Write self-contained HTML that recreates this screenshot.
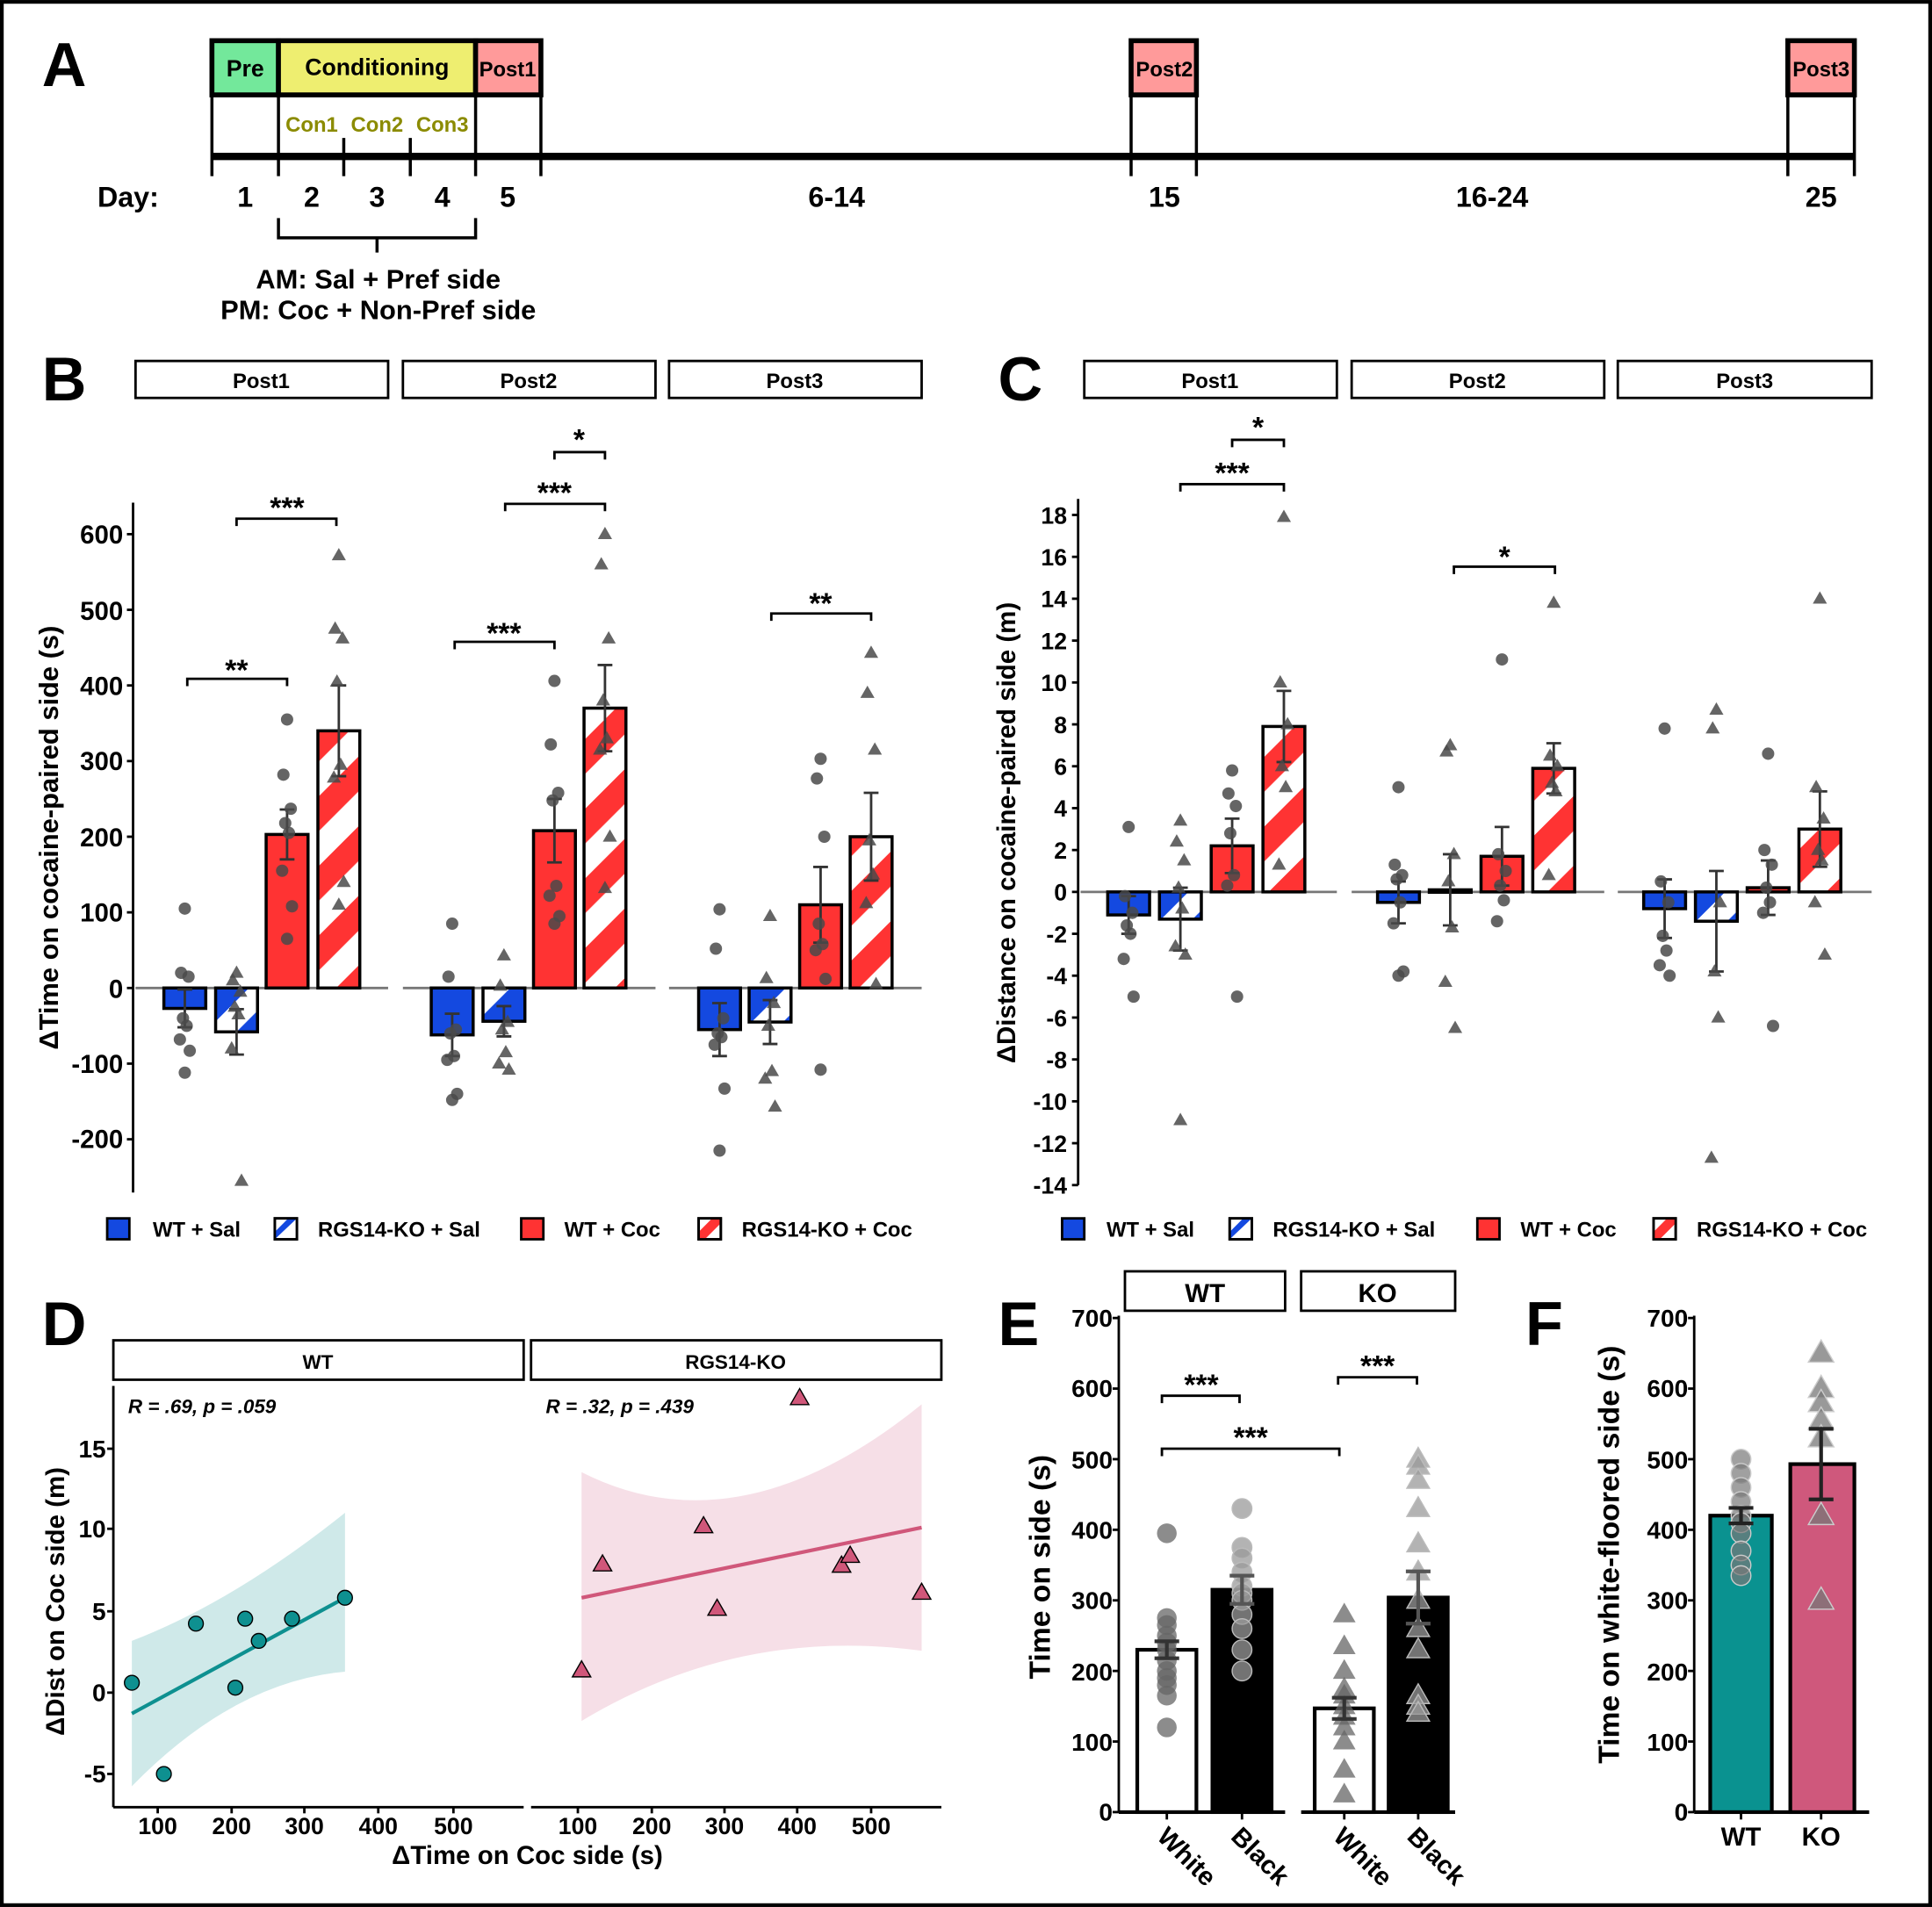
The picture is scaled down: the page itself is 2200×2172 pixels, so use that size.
<!DOCTYPE html>
<html><head><meta charset="utf-8">
<style>
html,body{margin:0;padding:0;background:#fff;}
svg{display:block;}
text{font-family:"Liberation Sans",Arial,sans-serif;font-weight:bold;fill:#000;}
</style></head>
<body>
<svg id="s" xmlns="http://www.w3.org/2000/svg" width="2200" height="2172" viewBox="0 0 1568 1548">
<defs>
<pattern id="pr" patternUnits="userSpaceOnUse" width="40" height="40" patternTransform="rotate(45)">
<rect width="40" height="40" fill="#fff"/><rect width="20" height="40" fill="#ff3333"/></pattern>
<pattern id="pb" patternUnits="userSpaceOnUse" width="44" height="44" patternTransform="rotate(45) translate(6,0)">
<rect width="44" height="44" fill="#1449e0"/><rect width="18" height="44" fill="#fff"/></pattern>
</defs>
<rect x="1.5" y="1.5" width="1565" height="1545" fill="#fff" stroke="#000" stroke-width="3"/>

<!-- Panel A -->
<text x="34" y="70" font-size="50">A</text>
<g stroke="#000" stroke-width="4">
<rect x="172" y="33" width="54" height="44" fill="#73e89b"/>
<rect x="226" y="33" width="160" height="44" fill="#eeee70"/>
<rect x="386" y="33" width="53" height="44" fill="#ff9a9a"/>
<rect x="918" y="33" width="53" height="44" fill="#ff9a9a"/>
<rect x="1451" y="33" width="54" height="44" fill="#ff9a9a"/>
</g>
<g stroke="#000" stroke-width="2.5" fill="none">
<path d="M172 77V143M226 77V143M386 77V143M439 77V143M279 112V143M333 112V143M918 77V143M971 77V143M1451 77V143M1505 77V143"/>
<path d="M226 177V193H386V177M306 193V205"/>
</g>
<line x1="172" y1="127" x2="1505" y2="127" stroke="#000" stroke-width="6"/>
<g font-size="19" text-anchor="middle">
<text x="199" y="62">Pre</text>
<text x="306" y="61">Conditioning</text>
<text x="412" y="62" font-size="17">Post1</text>
<text x="945" y="62" font-size="17">Post2</text>
<text x="1478" y="62" font-size="17">Post3</text>
</g>
<g font-size="17" text-anchor="middle">
<text x="253" y="107" style="fill:#8b8b00">Con1</text><text x="306" y="107" style="fill:#8b8b00">Con2</text><text x="359" y="107" style="fill:#8b8b00">Con3</text>
</g>
<g font-size="23" text-anchor="middle">
<text x="104" y="168">Day:</text>
<text x="199" y="168">1</text><text x="253" y="168">2</text><text x="306" y="168">3</text><text x="359" y="168">4</text><text x="412" y="168">5</text>
<text x="679" y="168">6-14</text><text x="945" y="168">15</text><text x="1211" y="168">16-24</text><text x="1478" y="168">25</text>
<text x="307" y="234" font-size="22">AM: Sal + Pref side</text>
<text x="307" y="259" font-size="22">PM: Coc + Non-Pref side</text>
</g>

<!-- Panel B -->
<text x="34" y="325" font-size="50">B</text>
<g fill="#fff" stroke="#000" stroke-width="2">
<rect x="110" y="293" width="205" height="30"/><rect x="327" y="293" width="205" height="30"/><rect x="543" y="293" width="205" height="30"/>
<rect x="880" y="293" width="205" height="30"/><rect x="1097" y="293" width="205" height="30"/><rect x="1313" y="293" width="206" height="30"/>
<rect x="92" y="1088" width="333" height="32"/><rect x="431" y="1088" width="333" height="32"/>
<rect x="913" y="1032" width="130" height="32"/><rect x="1056" y="1032" width="125" height="32"/>
</g>
<g font-size="17" text-anchor="middle">
<text x="212" y="315">Post1</text><text x="429" y="315">Post2</text><text x="645" y="315">Post3</text>
<text x="982" y="315">Post1</text><text x="1199" y="315">Post2</text><text x="1416" y="315">Post3</text>
<text x="258" y="1111" font-size="16">WT</text><text x="597" y="1111" font-size="16">RGS14-KO</text>
<text x="978" y="1057" font-size="21">WT</text><text x="1118" y="1057" font-size="21">KO</text>
</g>
<g font-size="21" text-anchor="end">
<text x="100" y="441">600</text><text x="100" y="503">500</text><text x="100" y="564">400</text><text x="100" y="625">300</text>
<text x="100" y="687">200</text><text x="100" y="748">100</text><text x="100" y="810">0</text><text x="100" y="871">-100</text><text x="100" y="932">-200</text>
</g>
<text transform="translate(47,680) rotate(-90)" font-size="22" text-anchor="middle">ΔTime on cocaine-paired side (s)</text>
<g font-size="24" text-anchor="middle">
<text x="192" y="552">**</text><text x="233" y="420">***</text>
<text x="409" y="522">***</text><text x="450" y="408">***</text><text x="470" y="365">*</text>
<text x="666" y="498">**</text>
<text x="1021" y="355">*</text><text x="1000" y="392">***</text><text x="1221" y="460">*</text>
<text x="975" y="1132">***</text><text x="1118" y="1117">***</text><text x="1015" y="1175">***</text>
</g>
<g stroke="#000" stroke-width="2" fill="none">
<path d="M152 557V551H233V557M192 427V421H273V427M369 527V521H450V527M410 415V409H491V415M450 373V367H491V373M626 504V498H707V504"/>
<path d="M1000 363V357H1042V363M958 399V393H1042V399M1180 466V460H1262V466"/>
<path d="M943 1139V1133H1006V1139M1086 1124V1118H1150V1124M943 1182V1176H1087V1182"/>
</g>
<g font-size="17">
<text x="124" y="1004">WT + Sal</text><text x="258" y="1004">RGS14-KO + Sal</text><text x="458" y="1004">WT + Coc</text><text x="602" y="1004">RGS14-KO + Coc</text>
<text x="898" y="1004">WT + Sal</text><text x="1033" y="1004">RGS14-KO + Sal</text><text x="1234" y="1004">WT + Coc</text><text x="1377" y="1004">RGS14-KO + Coc</text>
</g>
<g stroke="#000" stroke-width="2">
<rect x="87" y="989" width="18" height="17" fill="#1449e0"/><rect x="423" y="989" width="18" height="17" fill="#ff3333"/>
<rect x="862" y="989" width="18" height="17" fill="#1449e0"/><rect x="1199" y="989" width="18" height="17" fill="#ff3333"/>
</g>
<g stroke="#000" stroke-width="2">
<rect x="223" y="989" width="18" height="17" fill="#fff"/><polygon points="223,1006 223,1000 234,989 241,989" fill="#1449e0" stroke="none"/><rect x="223" y="989" width="18" height="17" fill="none"/>
<rect x="567" y="989" width="18" height="17" fill="#fff"/><polygon points="567,1006 567,1000 578,989 585,989 585,993 572,1006" fill="#ff3333" stroke="none"/><rect x="567" y="989" width="18" height="17" fill="none"/>
<rect x="998" y="989" width="18" height="17" fill="#fff"/><polygon points="998,1006 998,1000 1009,989 1016,989" fill="#1449e0" stroke="none"/><rect x="998" y="989" width="18" height="17" fill="none"/>
<rect x="1342" y="989" width="18" height="17" fill="#fff"/><polygon points="1342,1006 1342,1000 1353,989 1360,989 1360,993 1347,1006" fill="#ff3333" stroke="none"/><rect x="1342" y="989" width="18" height="17" fill="none"/>
</g>

<!-- Panel C text -->
<text x="810" y="325" font-size="50">C</text>
<g font-size="19" text-anchor="end">
<text x="866" y="425">18</text><text x="866" y="459">16</text><text x="866" y="493">14</text><text x="866" y="527">12</text><text x="866" y="561">10</text>
<text x="866" y="595">8</text><text x="866" y="629">6</text><text x="866" y="663">4</text><text x="866" y="697">2</text><text x="866" y="731">0</text>
<text x="866" y="765">-2</text><text x="866" y="799">-4</text><text x="866" y="833">-6</text><text x="866" y="867">-8</text><text x="866" y="901">-10</text>
<text x="866" y="935">-12</text><text x="866" y="969">-14</text>
</g>
<text transform="translate(824,676) rotate(-90)" font-size="21" text-anchor="middle">ΔDistance on cocaine-paired side (m)</text>

<!-- Panel D text -->
<text x="34" y="1092" font-size="50">D</text>
<g font-size="16" font-style="italic">
<text x="104" y="1147" font-style="italic">R = .69,  p = .059</text>
<text x="443" y="1147" font-style="italic">R = .32,  p = .439</text>
</g>
<g font-size="20" text-anchor="end">
<text x="86" y="1183">15</text><text x="86" y="1248">10</text><text x="86" y="1315">5</text><text x="86" y="1381">0</text><text x="86" y="1447">-5</text>
</g>
<g font-size="19" text-anchor="middle">
<text x="128" y="1489">100</text><text x="188" y="1489">200</text><text x="247" y="1489">300</text><text x="307" y="1489">400</text><text x="368" y="1489">500</text>
<text x="469" y="1489">100</text><text x="529" y="1489">200</text><text x="588" y="1489">300</text><text x="647" y="1489">400</text><text x="707" y="1489">500</text>
<text x="428" y="1513" font-size="21">ΔTime on Coc side (s)</text>
</g>
<text transform="translate(52,1300) rotate(-90)" font-size="21" text-anchor="middle">ΔDist on Coc side (m)</text>

<!-- Panel E/F text -->
<text x="810" y="1092" font-size="50">E</text>
<text x="1238" y="1092" font-size="50">F</text>
<g font-size="20" text-anchor="end">
<text x="903" y="1077">700</text><text x="903" y="1134">600</text><text x="903" y="1192">500</text><text x="903" y="1249">400</text>
<text x="903" y="1306">300</text><text x="903" y="1364">200</text><text x="903" y="1421">100</text><text x="903" y="1478">0</text>
<text x="1370" y="1077">700</text><text x="1370" y="1134">600</text><text x="1370" y="1192">500</text><text x="1370" y="1249">400</text>
<text x="1370" y="1306">300</text><text x="1370" y="1364">200</text><text x="1370" y="1421">100</text><text x="1370" y="1478">0</text>
</g>
<text transform="translate(852,1272) rotate(-90)" font-size="24" text-anchor="middle">Time on side (s)</text>
<text transform="translate(1314,1262) rotate(-90)" font-size="24" text-anchor="middle">Time on white-floored side (s)</text>
<g font-size="21">
<text transform="translate(938,1492) rotate(45)">White</text>
<text transform="translate(998,1492) rotate(45)">Black</text>
<text transform="translate(1081,1492) rotate(45)">White</text>
<text transform="translate(1141,1492) rotate(45)">Black</text>
</g>
<g font-size="21" text-anchor="middle"><text x="1413" y="1498">WT</text><text x="1478" y="1498">KO</text></g>
<g id="g"></g>
</svg>
<script>
(function(){
var NS="http://www.w3.org/2000/svg",G=document.getElementById("g");
function el(t,a,p){var e=document.createElementNS(NS,t);for(var k in a)e.setAttribute(k,a[k]);(p||G).appendChild(e);return e;}
function ln(x1,y1,x2,y2,c,w){el("line",{x1:x1,y1:y1,x2:x2,y2:y2,stroke:c||"#000","stroke-width":w||2});}
function pt(x,y,tri,fill,r,op,stroke){r=r||5;fill=fill||"#444";
 if(tri){el("polygon",{points:(x)+","+(y-r*1.2)+" "+(x-r*1.15)+","+(y+r*0.8)+" "+(x+r*1.15)+","+(y+r*0.8),fill:fill,"fill-opacity":op||0.85,stroke:stroke||"none","stroke-width":1});}
 else el("circle",{cx:x,cy:y,r:r,fill:fill,"fill-opacity":op||0.85,stroke:stroke||"none","stroke-width":1});}
function jit(i){return [0,-3,3,-1.5,1.5,-4,4,0,2,-2,1,-1][i%12];}
ln(108,408,108,968,"#000",2);
[600,500,400,300,200,100,0,-100,-200].forEach(function(v){var y=802-v*0.614;ln(103,y,108,y);});
ln(110,802,315,802,"#777",2);ln(327,802,532,802,"#777",2);ln(543,802,748,802,"#777",2);
var fills=["#1449e0","url(#pb)","#ff3333","url(#pr)"];
function panel(cx,vals,sems,pts,yf,zero){
 for(var i=0;i<4;i++){var x=cx[i],v=vals[i],y=yf(v),z=zero;
  el("rect",{x:x-17,y:Math.min(y,z),width:34,height:Math.max(Math.abs(y-z),2),fill:fills[i],stroke:"#000","stroke-width":2.5});}
 for(var i=0;i<4;i++){var x=cx[i];var a=yf(vals[i]+sems[i]),b=yf(vals[i]-sems[i]);
  ln(x,a,x,b,"#333",2);ln(x-6,a,x+6,a,"#333",2);ln(x-6,b,x+6,b,"#333",2);
  pts[i].forEach(function(v,j){pt(x+jit(j),yf(v),i%2==1,"#4a4a4a",5,0.85);});}
}
var yB=function(v){return 802-v*0.614;};
panel([150,192,233,275],[-27,-58,203,340],[25,30,33,60],[[105,20,15,-40,-50,-68,-83,-112],[20,10,-5,-25,-35,-80,-255],[355,282,237,218,205,155,108,65],[572,475,462,405,295,278,140,110]],yB,802);
panel([367,409,450,491],[-62,-44,208,370],[28,20,42,57],[[85,15,-55,-60,-90,-95,-140,-148],[43,3,-45,-55,-85,-100,-108],[406,322,258,248,135,122,95,85],[600,560,462,380,330,315,200,132]],yB,802);
panel([584,625,666,707],[-55,-45,110,200],[35,29,50,58],[[104,52,-40,-60,-65,-75,-133,-215],[95,13,-20,-50,-110,-120,-157],[303,277,200,85,58,50,12,-108],[443,390,315,195,150,112,5]],yB,802);
ln(875,405,875,962,"#000",2);
for(var v=18;v>=-14;v-=2){var y=724-v*17;ln(870,y,875,y);}
ln(877,724,1085,724,"#777",2);ln(1097,724,1302,724,"#777",2);ln(1313,724,1519,724,"#777",2);
var yC=function(v){return 724-v*17;};
panel([916,958,1000,1042],[-1.1,-1.3,2.2,7.9],[0.9,1.5,1.3,1.7],[[3.1,-0.2,-1,-1.6,-2,-3.2,-5],[3.4,2.4,1.5,0.2,-0.8,-2.6,-3,-10.9],[5.8,4.7,4.1,2.8,0.8,0.3,-5],[17.9,10,8,6,5,1.3]],yC,724);
panel([1135,1177,1219,1261],[-0.5,0.1,1.7,5.9],[1,1.7,1.4,1.2],[[5,1.3,0.8,0.6,-0.5,-1.5,-3.8,-4],[7,6.7,1.8,0.5,-1.7,-4.3,-6.5],[11.1,1.8,1,0.3,-0.4,-1.4],[13.8,6.5,6,5.2,4.8,0.8]],yC,724);
panel([1351,1393,1435,1477],[-0.8,-1.4,0.2,3.0],[1.4,2.4,1.3,1.8],[[7.8,0.5,-0.5,-2.1,-2.8,-3.5,-4],[8.7,7.8,-0.5,-3.8,-6,-12.7],[6.6,2,1.3,0.2,-0.5,-1,-6.4],[14,5,3.5,2,1.5,-0.5,-3]],yC,724);
ln(92,1125,92,1467);ln(92,1467,425,1467);ln(431,1467,764,1467);
[1176,1241,1308,1374,1440].forEach(function(y){ln(87,y,92,y);});
[128,188,247,307,368,469,529,588,647,707].forEach(function(x){ln(x,1467,x,1472);});
el("path",{d:"M107 1332 Q190 1300 280 1228 L280 1357 Q190 1365 107 1450 Z",fill:"#cfe9e9"});
el("path",{d:"M472 1195 Q600 1260 748 1140 L748 1340 Q600 1320 472 1397 Z",fill:"#f6dfe7"});
ln(107,1391,280,1297,"#0e9090",3);ln(472,1297,748,1240,"#d0577a",3);
[[107,1366],[133,1440],[159,1318],[191,1370],[199,1314],[210,1332],[237,1314],[280,1297]].forEach(function(p){pt(p[0],p[1],false,"#0e9090",6,1,"#000");});
[[472,1356],[489,1270],[571,1239],[582,1306],[649,1135],[683,1271],[690,1263],[748,1293]].forEach(function(p){pt(p[0],p[1],true,"#d0577a",6.5,1,"#000");});
var yE=function(v){return 1471-v*0.573;};
ln(908,1068,908,1471);ln(908,1471,1043,1471,"#000",3);ln(1056,1471,1181,1471,"#000",3);
for(var v=0;v<=700;v+=100){ln(903,yE(v),908,yE(v));}
[947,1008,1091,1151].forEach(function(x){ln(x,1471,x,1477);});
var eb=[[947,230,"#fff",12],[1008,315,"#000",20],[1091,147,"#fff",15],[1151,304,"#000",37]];
eb.forEach(function(b){el("rect",{x:b[0]-24,y:yE(b[1]),width:48,height:1471-yE(b[1]),fill:b[2],stroke:"#000","stroke-width":3});});
var ep=[[395,275,265,250,240,230,215,200,190,180,165,120],[430,375,360,340,320,310,300,280,260,230,200],[280,235,200,175,165,150,135,120,100,60,25],[500,490,470,430,380,340,300,260,230,165,150,140]];
eb.forEach(function(b,i){var x=b[0],a=yE(b[1]+b[3]),c=yE(b[1]-b[3]);var col=i%2?"#555":"#333";
 ep[i].forEach(function(v){pt(x,yE(v),i>=2,i%2?"#999":"#666",8,0.75,i%2?"#bbb":"none");});
 ln(x,a,x,c,col,3);ln(x-10,a,x+10,a,col,3);ln(x-10,c,x+10,c,col,3);});
ln(1375,1068,1375,1471);ln(1375,1471,1517,1471,"#000",3);
for(var v=0;v<=700;v+=100){ln(1370,yE(v),1375,yE(v));}
[1413,1478].forEach(function(x){ln(x,1471,x,1477);});
el("rect",{x:1388,y:yE(420),width:50,height:1471-yE(420),fill:"#0a9290",stroke:"#000","stroke-width":3});
el("rect",{x:1453,y:yE(493),width:52,height:1471-yE(493),fill:"#cf587c",stroke:"#000","stroke-width":3});
[500,480,460,440,420,410,395,370,350,335].forEach(function(v){pt(1413,yE(v),false,"#777",8,0.7,"#ccc");});
[650,600,580,555,530,420,300].forEach(function(v){pt(1478,yE(v),true,"#777",9,0.75,"#ccc");});
[[1413,420,11],[1478,493,50]].forEach(function(b){var a=yE(b[1]+b[2]),c=yE(b[1]-b[2]);ln(b[0],a,b[0],c,"#222",3);ln(b[0]-10,a,b[0]+10,a,"#222",3);ln(b[0]-10,c,b[0]+10,c,"#222",3);});
})();
</script>
</body></html>
